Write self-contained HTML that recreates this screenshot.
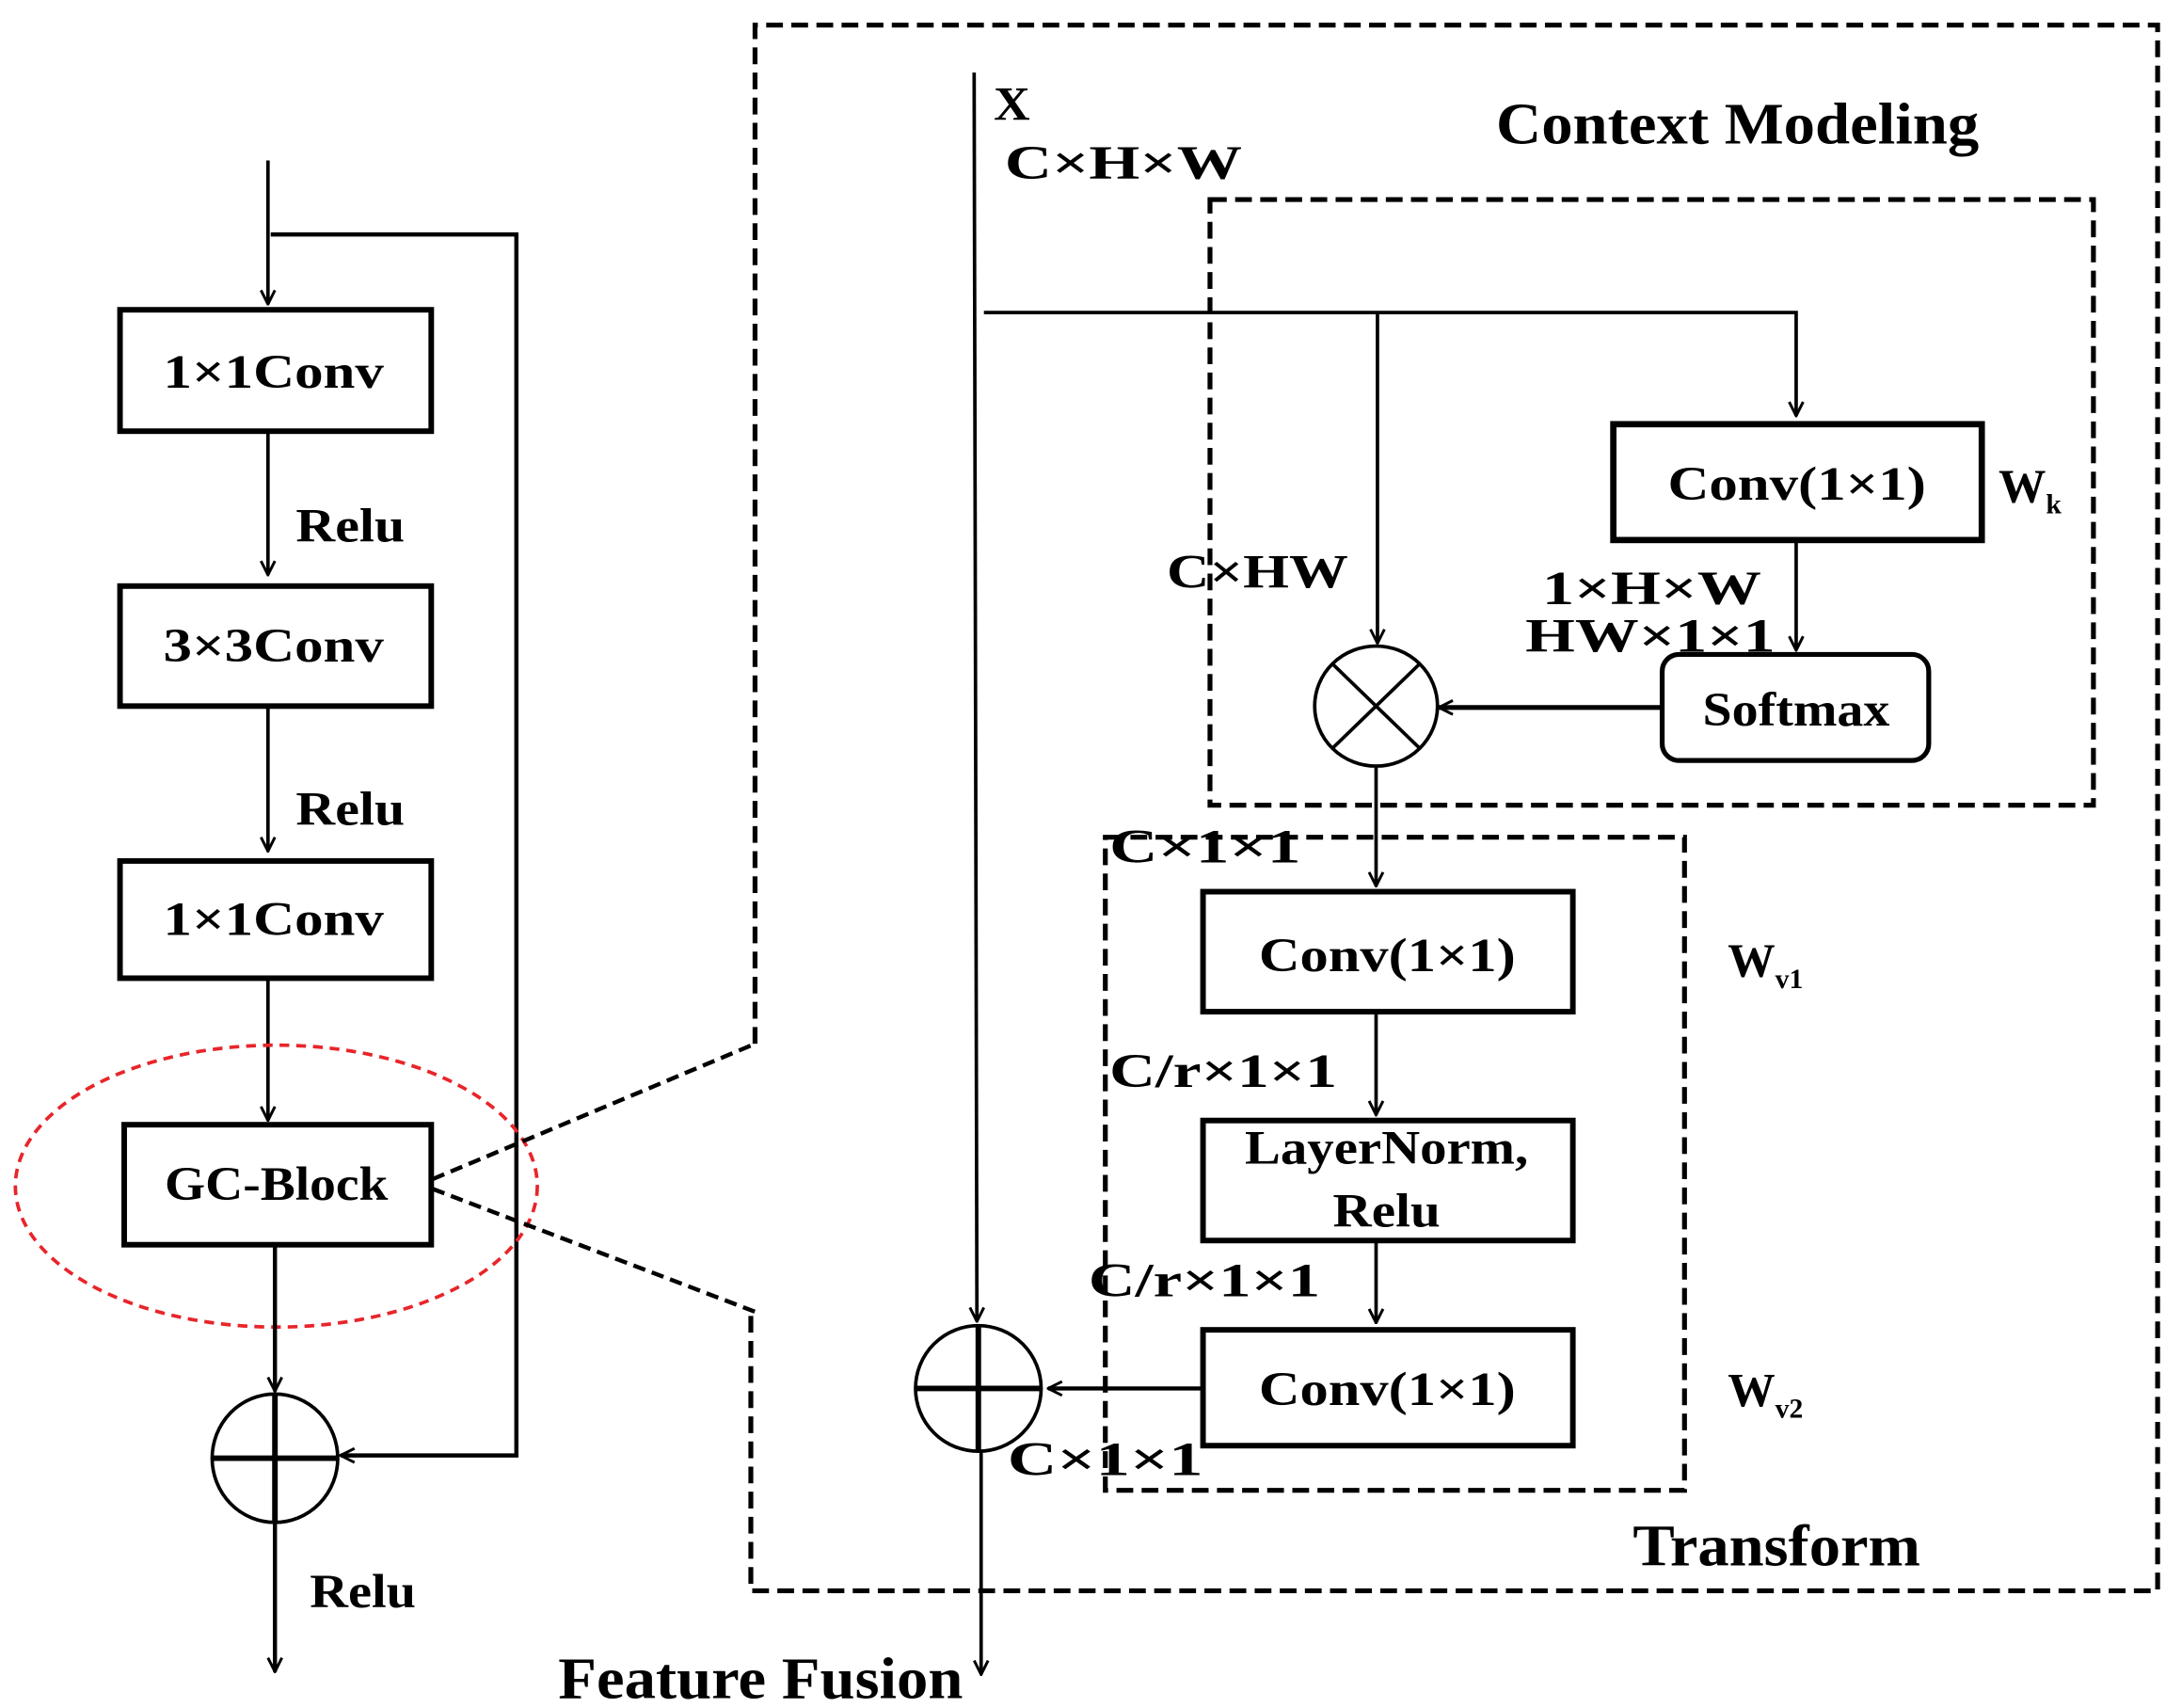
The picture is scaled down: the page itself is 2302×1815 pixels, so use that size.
<!DOCTYPE html>
<html><head><meta charset="utf-8"><style>html,body{margin:0;padding:0;background:#fff}svg{display:block}</style></head>
<body>
<svg width="2302" height="1815" viewBox="0 0 1552 1224" preserveAspectRatio="none" xmlns="http://www.w3.org/2000/svg" font-family="Liberation Serif, serif" font-weight="bold">
<defs>
<marker id="a" viewBox="0 0 12 12" refX="11" refY="6" markerWidth="12" markerHeight="12" markerUnits="userSpaceOnUse" orient="auto">
<path d="M1,1 L11,6 L1,11" fill="none" stroke="#000" stroke-width="2"/></marker>
</defs>
<g fill="none" stroke="#000">
<line x1="192" y1="115" x2="192" y2="218" stroke-width="2.5" marker-end="url(#a)"/>
<polyline points="194,168 370,168 370,1043 244,1043" stroke-width="3" marker-end="url(#a)"/>
<rect x="86" y="222" width="223" height="87" stroke-width="4"/>
<line x1="192" y1="310" x2="192" y2="412" stroke-width="2.5" marker-end="url(#a)"/>
<rect x="86" y="420" width="223" height="86" stroke-width="4"/>
<line x1="192" y1="507" x2="192" y2="610" stroke-width="2.5" marker-end="url(#a)"/>
<rect x="86" y="617" width="223" height="84" stroke-width="4"/>
<line x1="192" y1="702" x2="192" y2="803" stroke-width="2.5" marker-end="url(#a)"/>
<rect x="89" y="806" width="220" height="86" stroke-width="4"/>
<ellipse cx="198" cy="850" rx="187" ry="101" stroke="#e8252a" stroke-width="2.5" stroke-dasharray="7,5"/>
<line x1="197" y1="893" x2="197" y2="997" stroke-width="3" marker-end="url(#a)"/>
<ellipse cx="197" cy="1045" rx="45" ry="46" stroke-width="2.5"/>
<line x1="152" y1="1045" x2="242" y2="1045" stroke-width="4"/>
<line x1="197" y1="999" x2="197" y2="1091" stroke-width="4"/>
<line x1="197" y1="1091" x2="197" y2="1198" stroke-width="3" marker-end="url(#a)"/>
<line x1="310" y1="845" x2="541" y2="748" stroke-width="3" stroke-dasharray="9,5"/>
<line x1="310" y1="852" x2="541" y2="940" stroke-width="3" stroke-dasharray="9,5"/>
<polyline points="541,748 541,18 1546,18 1546,1140 538,1140 538,940" stroke-width="3.5" stroke-dasharray="12,6"/>
<rect x="867" y="143" width="633" height="434" stroke-width="3.5" stroke-dasharray="12,6"/>
<rect x="792" y="600" width="415" height="468" stroke-width="3.5" stroke-dasharray="12,6"/>
<line x1="698" y1="52" x2="700" y2="947" stroke-width="2.5" marker-end="url(#a)"/>
<ellipse cx="701" cy="995" rx="45" ry="45" stroke-width="2.5"/>
<line x1="656" y1="995" x2="746" y2="995" stroke-width="4"/>
<line x1="701" y1="950" x2="701" y2="1040" stroke-width="4"/>
<line x1="703" y1="1040" x2="703" y2="1200" stroke-width="2.5" marker-end="url(#a)"/>
<polyline points="705,224 1287,224 1287,298" stroke-width="2.5" marker-end="url(#a)"/>
<line x1="987" y1="224" x2="987" y2="461" stroke-width="2.5" marker-end="url(#a)"/>
<rect x="1156" y="304" width="264" height="83" stroke-width="4.5"/>
<line x1="1287" y1="388" x2="1287" y2="466" stroke-width="2.5" marker-end="url(#a)"/>
<rect x="1191" y="469" width="191" height="76" rx="12" stroke-width="3.5"/>
<line x1="1190" y1="507" x2="1031" y2="507" stroke-width="3.5" marker-end="url(#a)"/>
<ellipse cx="986" cy="506" rx="44" ry="43" stroke-width="2.5"/>
<line x1="955" y1="476" x2="1017" y2="536" stroke-width="2.5"/>
<line x1="1017" y1="476" x2="955" y2="536" stroke-width="2.5"/>
<line x1="986" y1="550" x2="986" y2="635" stroke-width="2.5" marker-end="url(#a)"/>
<rect x="862" y="639" width="265" height="86" stroke-width="4"/>
<line x1="986" y1="726" x2="986" y2="799" stroke-width="2.5" marker-end="url(#a)"/>
<rect x="862" y="803" width="265" height="86" stroke-width="4"/>
<line x1="986" y1="890" x2="986" y2="948" stroke-width="2.5" marker-end="url(#a)"/>
<rect x="862" y="953" width="265" height="83" stroke-width="4"/>
<line x1="861" y1="995" x2="751" y2="995" stroke-width="3" marker-end="url(#a)"/>
</g>
<g fill="#000" font-size="34" lengthAdjust="spacingAndGlyphs">
<text x="117" y="278" textLength="158" lengthAdjust="spacingAndGlyphs">1×1Conv</text>
<text x="117" y="474" textLength="158" lengthAdjust="spacingAndGlyphs">3×3Conv</text>
<text x="117" y="670" textLength="158" lengthAdjust="spacingAndGlyphs">1×1Conv</text>
<text x="118" y="860" textLength="160" lengthAdjust="spacingAndGlyphs">GC-Block</text>
<text x="212" y="388" textLength="78" lengthAdjust="spacingAndGlyphs">Relu</text>
<text x="212" y="591" textLength="78" lengthAdjust="spacingAndGlyphs">Relu</text>
<text x="222" y="1152" textLength="76" lengthAdjust="spacingAndGlyphs">Relu</text>
<text x="712" y="86" textLength="26" lengthAdjust="spacingAndGlyphs">X</text>
<text x="720" y="128" textLength="170" lengthAdjust="spacingAndGlyphs">C×H×W</text>
<text x="1072" y="103" font-size="42" textLength="346" lengthAdjust="spacingAndGlyphs">Context Modeling</text>
<text x="1195" y="358" textLength="185" lengthAdjust="spacingAndGlyphs">Conv(1×1)</text>
<text x="1432" y="360">W<tspan font-size="20" dy="8">k</tspan></text>
<text x="836" y="421" textLength="130" lengthAdjust="spacingAndGlyphs">C×HW</text>
<text x="1105" y="433" textLength="157" lengthAdjust="spacingAndGlyphs">1×H×W</text>
<text x="1093" y="467" textLength="179" lengthAdjust="spacingAndGlyphs">HW×1×1</text>
<text x="1220" y="520" textLength="134" lengthAdjust="spacingAndGlyphs">Softmax</text>
<text x="795" y="618" textLength="137" lengthAdjust="spacingAndGlyphs">C×1×1</text>
<text x="902" y="696" textLength="184" lengthAdjust="spacingAndGlyphs">Conv(1×1)</text>
<text x="1238" y="700">W<tspan font-size="20" dy="8">v1</tspan></text>
<text x="795" y="779" textLength="163" lengthAdjust="spacingAndGlyphs">C/r×1×1</text>
<text x="892" y="834" textLength="203" lengthAdjust="spacingAndGlyphs">LayerNorm,</text>
<text x="955" y="879" textLength="77" lengthAdjust="spacingAndGlyphs">Relu</text>
<text x="780" y="929" textLength="166" lengthAdjust="spacingAndGlyphs">C/r×1×1</text>
<text x="902" y="1007" textLength="184" lengthAdjust="spacingAndGlyphs">Conv(1×1)</text>
<text x="1238" y="1008">W<tspan font-size="20" dy="8">v2</tspan></text>
<text x="722" y="1057" textLength="140" lengthAdjust="spacingAndGlyphs">C×1×1</text>
<text x="1170" y="1122" font-size="42" textLength="206" lengthAdjust="spacingAndGlyphs">Transform</text>
<text x="400" y="1217" font-size="42" textLength="290" lengthAdjust="spacingAndGlyphs">Feature Fusion</text>
</g>
</svg>
</body></html>
